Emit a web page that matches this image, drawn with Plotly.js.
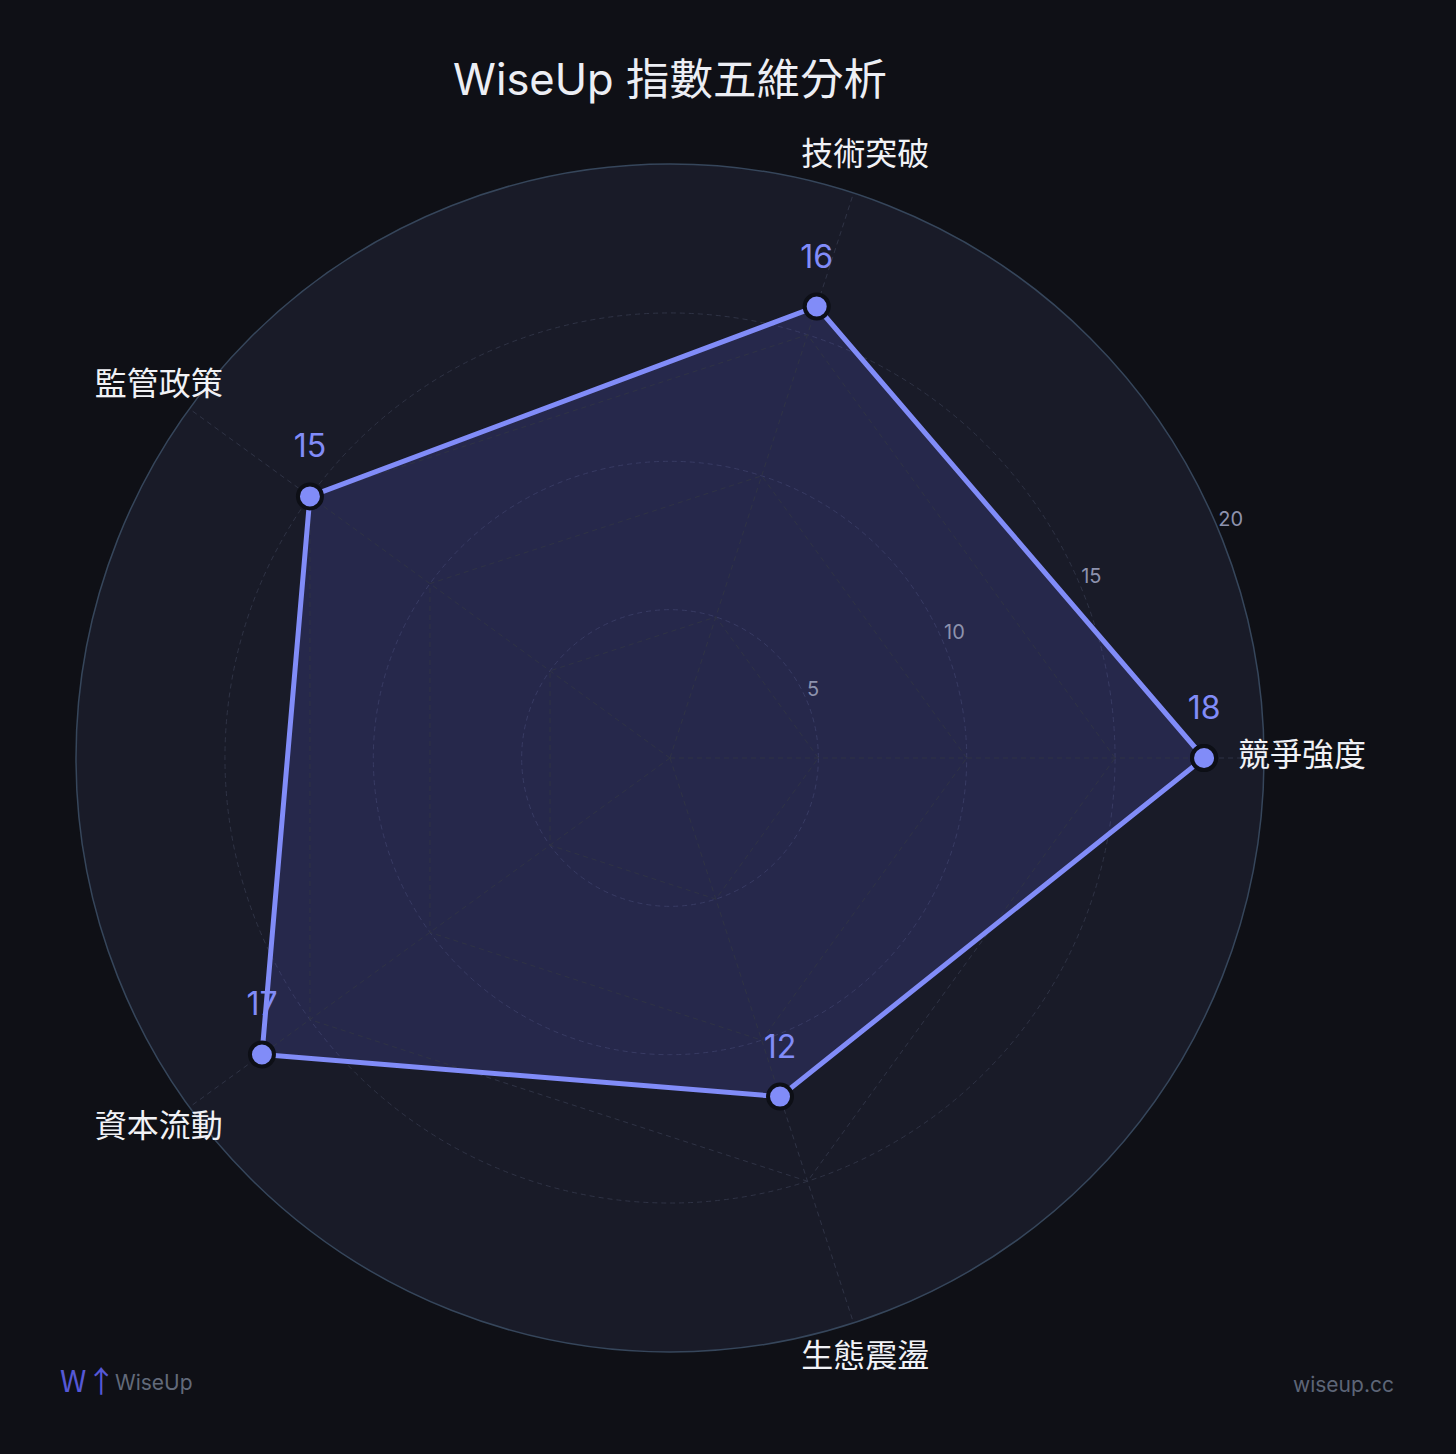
<!DOCTYPE html>
<html>
<head>
<meta charset="utf-8">
<script src="https://cdn.plot.ly/plotly-3.0.1.min.js"></script>
<style>html,body{margin:0;padding:0;background:#0f1016;}#chart{width:1456px;height:1454px;}</style>
</head>
<body>
<div id="chart"></div>
<script>
// ---- data ----
const categories = ['競爭強度', '技術突破', '監管政策', '資本流動', '生態震盪'];
const scores = [18, 16, 15, 17, 12];
const radialTicks = [5, 10, 15, 20];
const radialTickLabels = ['5', '10', '15', '20'];
const titleText = 'WiseUp 指數五維分析';

// ---- geometry / style ----
const W = 1456, H = 1454;
const cx = 670, cy = 758, R = 594, Rout = 640;
const rMax = 20.02;
const rMaxOuter = rMax * Rout / R;
const labelR = 21.3;
const tickAngle = 22.5;
const inner = (Rout - R) / (2 * Rout);
const dom = [inner, 1 - inner];
const FONT = "Inter, 'Noto Sans CJK TC', 'Noto Sans', sans-serif";
const accent = '#818cf8';
const gridCol = '#2f3345';
const gridDash = '5px,4px';

const closedR = scores.concat([scores[0]]);
const closedT = categories.concat([categories[0]]);

const traces = [
  { // fill area (under grids)
    type: 'scatterpolar', subplot: 'polar',
    r: closedR, theta: closedT, mode: 'none',
    fill: 'toself', fillcolor: 'rgba(99,102,241,0.18)',
    hoverinfo: 'skip', showlegend: false
  },
  { // value labels
    type: 'scatterpolar', subplot: 'polar2',
    r: scores, theta: categories, mode: 'markers+text',
    text: scores.map(String), textposition: 'top center',
    textfont: { family: FONT, size: 32, color: accent },
    marker: { size: 48, opacity: 0 },
    cliponaxis: false, hoverinfo: 'skip', showlegend: false
  },
  { // outline + markers
    type: 'scatterpolar', subplot: 'polar2',
    r: closedR, theta: closedT, mode: 'lines+markers',
    line: { color: accent, width: 5 },
    marker: { size: 24, color: accent, line: { color: '#0d0f16', width: 4 } },
    cliponaxis: false, showlegend: false
  },
  { // category labels
    type: 'scatterpolar', subplot: 'polar3',
    r: categories.map(() => labelR), theta: categories, mode: 'text',
    text: categories, textposition: 'middle center',
    textfont: { family: FONT, size: 32, color: '#f1f2f6' },
    cliponaxis: false, hoverinfo: 'skip', showlegend: false
  },
  { // radial tick labels
    type: 'scatterpolar', subplot: 'polar4',
    r: radialTicks, theta: radialTicks.map(() => tickAngle), mode: 'text',
    text: radialTickLabels, textposition: 'top right',
    textfont: { family: FONT, size: 20, color: '#8d92ad' },
    cliponaxis: false, hoverinfo: 'skip', showlegend: false
  }
];

const hiddenRadial = { range: [0, rMaxOuter], showgrid: false, showline: false, showticklabels: false, ticks: '' };

const layout = {
  width: W, height: H,
  paper_bgcolor: '#0f1016', plot_bgcolor: 'rgba(0,0,0,0)',
  margin: { l: cx - Rout, r: W - (cx + Rout), t: cy - Rout, b: H - (cy + Rout), pad: 0 },
  font: { family: FONT, color: '#e5e7eb' },
  showlegend: false,
  title: {
    text: titleText, font: { family: FONT, size: 43.5, color: '#eceef4' },
    x: 0.5, xref: 'paper', xanchor: 'center',
    y: 1 - 80 / H, yref: 'container', yanchor: 'middle'
  },
  polar: {
    domain: { x: dom, y: dom },
    bgcolor: '#191b28', gridshape: 'circular',
    radialaxis: {
      range: [0, rMax], tickvals: [5, 10, 15], showticklabels: false, ticks: '',
      showline: false, showgrid: true, gridcolor: gridCol, griddash: gridDash, gridwidth: 1
    },
    angularaxis: {
      type: 'category', categoryarray: categories, rotation: 0, direction: 'counterclockwise',
      showgrid: false, showticklabels: false, ticks: '',
      showline: true, linecolor: '#36465b', linewidth: 1.5
    }
  },
  polar2: {
    domain: { x: dom, y: dom },
    bgcolor: 'rgba(0,0,0,0)', gridshape: 'linear',
    radialaxis: {
      range: [0, rMax], tickvals: radialTicks, showticklabels: false, ticks: '',
      showline: false, showgrid: true, gridcolor: gridCol, griddash: gridDash, gridwidth: 1
    },
    angularaxis: {
      type: 'category', categoryarray: categories, rotation: 0, direction: 'counterclockwise',
      showgrid: true, gridcolor: gridCol, griddash: gridDash, gridwidth: 1,
      showticklabels: false, ticks: '', showline: false
    }
  },
  polar3: {
    domain: { x: [0, 1], y: [0, 1] },
    bgcolor: 'rgba(0,0,0,0)',
    radialaxis: hiddenRadial,
    angularaxis: {
      type: 'category', categoryarray: categories, rotation: 0, direction: 'counterclockwise',
      showgrid: false, showline: false, showticklabels: false, ticks: ''
    }
  },
  polar4: {
    domain: { x: [0, 1], y: [0, 1] },
    bgcolor: 'rgba(0,0,0,0)',
    radialaxis: hiddenRadial,
    angularaxis: {
      type: 'linear', rotation: 0, direction: 'counterclockwise',
      showgrid: false, showline: false, showticklabels: false, ticks: ''
    }
  },
  annotations: [
    { text: 'W↑', showarrow: false, xref: 'paper', yref: 'paper',
      x: (58 - (cx - Rout)) / (2 * Rout), y: ((cy + Rout) - 1379) / (2 * Rout),
      xanchor: 'left', yanchor: 'middle', font: { family: "'Noto Sans CJK TC', sans-serif", size: 30, color: '#5558d6' } },
    { text: 'WiseUp', showarrow: false, xref: 'paper', yref: 'paper',
      x: (113 - (cx - Rout)) / (2 * Rout), y: ((cy + Rout) - 1382) / (2 * Rout),
      xanchor: 'left', yanchor: 'middle', font: { family: FONT, size: 21, color: '#626a7a' } },
    { text: 'wiseup.cc', showarrow: false, xref: 'paper', yref: 'paper',
      x: (1396 - (cx - Rout)) / (2 * Rout), y: ((cy + Rout) - 1384) / (2 * Rout),
      xanchor: 'right', yanchor: 'middle', font: { family: FONT, size: 21, color: '#5d6577' } }
  ]
};

Plotly.newPlot('chart', traces, layout, { staticPlot: true, displayModeBar: false });
</script>
</body>
</html>
